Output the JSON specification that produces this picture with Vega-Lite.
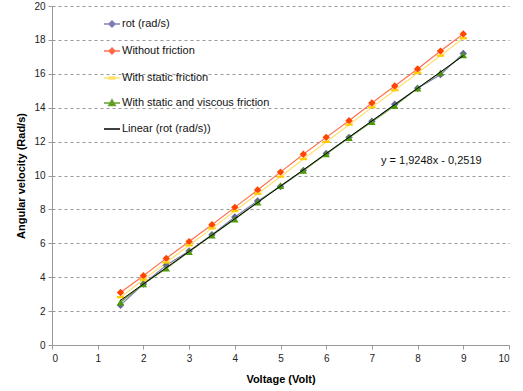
{
  "$schema": "https://vega.github.io/schema/vega-lite/v6.json",
  "autosize": "none",
  "width": 457,
  "height": 339,
  "padding": {"left": 52, "top": 6, "right": 14, "bottom": 46},
  "background": "white",
  "config": {
    "font": "Liberation Sans",
    "view": {"stroke": null},
    "axis": {"labelFont": "Liberation Sans", "titleFont": "Liberation Sans", "labelFontSize": 10, "labelColor": "#222", "titleFontSize": 11, "titleFontWeight": "bold", "titleColor": "#000", "domainColor": "#999", "tickColor": "#999", "tickSize": 4}
  },
  "datasets": {
    "series": [
      {"s": "rot (rad/s)", "x": 1.5, "y": 2.35}, {"s": "rot (rad/s)", "x": 2, "y": 3.6}, {"s": "rot (rad/s)", "x": 2.5, "y": 4.7}, {"s": "rot (rad/s)", "x": 3, "y": 5.55},
      {"s": "rot (rad/s)", "x": 3.5, "y": 6.5}, {"s": "rot (rad/s)", "x": 4, "y": 7.55}, {"s": "rot (rad/s)", "x": 4.5, "y": 8.5}, {"s": "rot (rad/s)", "x": 5, "y": 9.35},
      {"s": "rot (rad/s)", "x": 5.5, "y": 10.3}, {"s": "rot (rad/s)", "x": 6, "y": 11.3}, {"s": "rot (rad/s)", "x": 6.5, "y": 12.25}, {"s": "rot (rad/s)", "x": 7, "y": 13.2},
      {"s": "rot (rad/s)", "x": 7.5, "y": 14.2}, {"s": "rot (rad/s)", "x": 8, "y": 15.15}, {"s": "rot (rad/s)", "x": 8.5, "y": 15.95}, {"s": "rot (rad/s)", "x": 9, "y": 17.2},
      {"s": "Without friction", "x": 1.5, "y": 3.1}, {"s": "Without friction", "x": 2, "y": 4.09}, {"s": "Without friction", "x": 2.5, "y": 5.11}, {"s": "Without friction", "x": 3, "y": 6.1},
      {"s": "Without friction", "x": 3.5, "y": 7.1}, {"s": "Without friction", "x": 4, "y": 8.12}, {"s": "Without friction", "x": 4.5, "y": 9.15}, {"s": "Without friction", "x": 5, "y": 10.2},
      {"s": "Without friction", "x": 5.5, "y": 11.25}, {"s": "Without friction", "x": 6, "y": 12.25}, {"s": "Without friction", "x": 6.5, "y": 13.23}, {"s": "Without friction", "x": 7, "y": 14.28},
      {"s": "Without friction", "x": 7.5, "y": 15.28}, {"s": "Without friction", "x": 8, "y": 16.28}, {"s": "Without friction", "x": 8.5, "y": 17.34}, {"s": "Without friction", "x": 9, "y": 18.35},
      {"s": "With static friction", "x": 1.5, "y": 2.82}, {"s": "With static friction", "x": 2, "y": 3.85}, {"s": "With static friction", "x": 2.5, "y": 4.87}, {"s": "With static friction", "x": 3, "y": 5.88},
      {"s": "With static friction", "x": 3.5, "y": 6.88}, {"s": "With static friction", "x": 4, "y": 7.9}, {"s": "With static friction", "x": 4.5, "y": 8.92}, {"s": "With static friction", "x": 5, "y": 9.93},
      {"s": "With static friction", "x": 5.5, "y": 10.97}, {"s": "With static friction", "x": 6, "y": 11.98}, {"s": "With static friction", "x": 6.5, "y": 13.0}, {"s": "With static friction", "x": 7, "y": 14.02},
      {"s": "With static friction", "x": 7.5, "y": 15.03}, {"s": "With static friction", "x": 8, "y": 16.05}, {"s": "With static friction", "x": 8.5, "y": 17.07}, {"s": "With static friction", "x": 9, "y": 18.1},
      {"s": "With static and viscous friction", "x": 1.5, "y": 2.52}, {"s": "With static and viscous friction", "x": 2, "y": 3.6}, {"s": "With static and viscous friction", "x": 2.5, "y": 4.52}, {"s": "With static and viscous friction", "x": 3, "y": 5.5},
      {"s": "With static and viscous friction", "x": 3.5, "y": 6.48}, {"s": "With static and viscous friction", "x": 4, "y": 7.42}, {"s": "With static and viscous friction", "x": 4.5, "y": 8.42}, {"s": "With static and viscous friction", "x": 5, "y": 9.4},
      {"s": "With static and viscous friction", "x": 5.5, "y": 10.3}, {"s": "With static and viscous friction", "x": 6, "y": 11.27}, {"s": "With static and viscous friction", "x": 6.5, "y": 12.23}, {"s": "With static and viscous friction", "x": 7, "y": 13.17},
      {"s": "With static and viscous friction", "x": 7.5, "y": 14.12}, {"s": "With static and viscous friction", "x": 8, "y": 15.14}, {"s": "With static and viscous friction", "x": 8.5, "y": 16.07}, {"s": "With static and viscous friction", "x": 9, "y": 17.1}
    ],
    "trend": [
      {"s": "Linear (rot (rad/s))", "x": 1.5, "y": 2.6353},
      {"s": "Linear (rot (rad/s))", "x": 9, "y": 17.0713}
    ],
    "label": [
      {"x": 7.2, "y": 10.86, "t": "y = 1,9248x - 0,2519"}
    ]
  },
  "encoding": {
    "x": {"field": "x", "type": "quantitative", "scale": {"domain": [0, 10], "nice": false}, "axis": {"title": "Voltage (Volt)", "values": [0,1,2,3,4,5,6,7,8,9,10], "grid": false, "labelPadding": 4, "titlePadding": 10}},
    "y": {"field": "y", "type": "quantitative", "scale": {"domain": [0, 20], "nice": false}, "axis": {"title": "Angular velocity (Rad/s)", "values": [0,2,4,6,8,10,12,14,16,18,20], "grid": true, "gridColor": "#999", "gridDash": [3, 3], "labelPadding": 3, "titlePadding": 7}}
  },
  "layer": [
    {
      "data": {"name": "series"},
      "mark": {"type": "line", "strokeWidth": 1.2},
      "encoding": {
        "color": {"field": "s", "type": "nominal",
          "scale": {"domain": ["rot (rad/s)", "Without friction", "With static friction", "With static and viscous friction", "Linear (rot (rad/s))"], "range": ["#8080b8", "#ff7050", "#ffe070", "#66a030", "#000000"]},
          "legend": {"title": null, "orient": "none", "legendX": 51, "legendY": 9, "rowPadding": 11, "symbolSize": 256, "symbolStrokeWidth": 1.5, "labelFontSize": 11, "labelFont": "Liberation Sans", "labelColor": "#111", "labelOffset": 1, "padding": 0,
            "encode": {"symbols": {"update": {
              "shape": {"signal": "datum.value === 'rot (rad/s)' || datum.value === 'Without friction' ? 'M-1,0L1,0M0,-0.38L0.38,0L0,0.38L-0.38,0Z' : datum.value === 'With static friction' ? 'M-1,0L1,0M-0.35,-0.12L0.35,-0.12L0.35,0.12L-0.35,0.12Z' : datum.value === 'With static and viscous friction' ? 'M-1,0L1,0M0,-0.4L0.4,0.3L-0.4,0.3Z' : 'M-1,0L1,0'"},
              "fill": {"signal": "datum.value === 'rot (rad/s)' ? '#666699' : datum.value === 'Without friction' ? '#ff4500' : datum.value === 'With static friction' ? '#ffcc00' : datum.value === 'With static and viscous friction' ? '#4e9a06' : 'transparent'"},
              "stroke": {"signal": "datum.value === 'rot (rad/s)' ? '#666699' : datum.value === 'Without friction' ? '#ff4500' : datum.value === 'With static friction' ? '#ffe070' : datum.value === 'With static and viscous friction' ? '#4e9a06' : '#000000'"},
              "opacity": {"value": 1}
            }}}
          }
        },
        "detail": {"field": "s"}
      }
    },
    {
      "data": {"name": "series"},
      "mark": {"type": "point", "filled": true, "opacity": 1, "size": 55},
      "encoding": {
        "shape": {"field": "s", "type": "nominal", "legend": null,
          "scale": {"domain": ["rot (rad/s)", "Without friction", "With static friction", "With static and viscous friction"], "range": ["diamond", "diamond", "M-1,-0.3L1,-0.3L1,0.3L-1,0.3Z", "triangle-up"]}},
        "fill": {"field": "s", "type": "nominal", "legend": null,
          "scale": {"domain": ["rot (rad/s)", "Without friction", "With static friction", "With static and viscous friction"], "range": ["#666699", "#ff4500", "#ffcc00", "#4e9a06"]}}
      }
    },
    {
      "data": {"name": "trend"},
      "mark": {"type": "line", "color": "#000000", "strokeWidth": 1},
      "encoding": {}
    },
    {
      "data": {"name": "label"},
      "mark": {"type": "text", "align": "left", "baseline": "middle", "fontSize": 11, "font": "Liberation Sans", "color": "#111"},
      "encoding": {"text": {"field": "t"}}
    }
  ]
}
